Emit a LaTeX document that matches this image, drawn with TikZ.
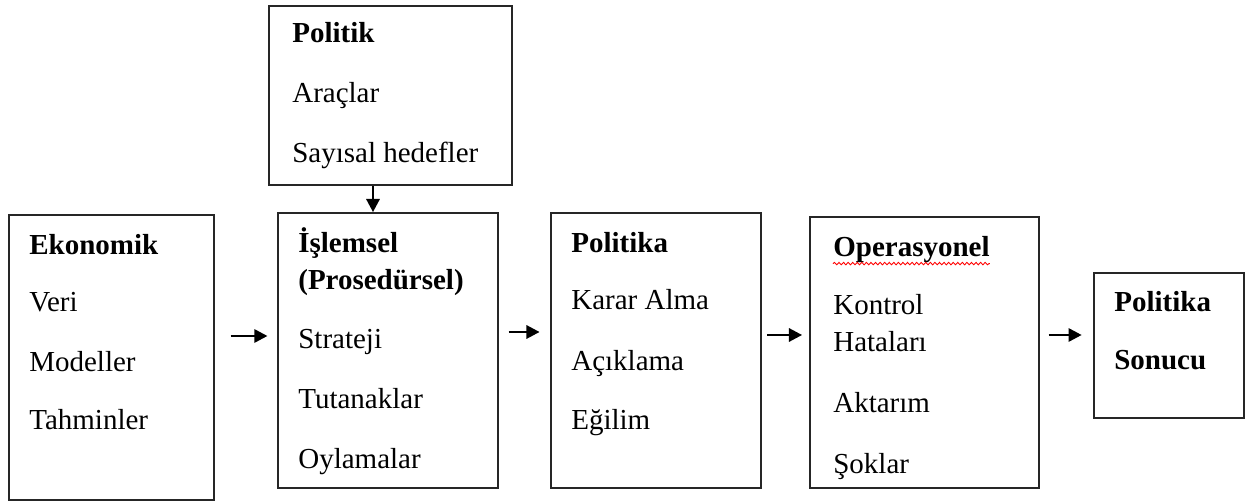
\documentclass[tikz,border=0pt]{standalone}
\usepackage{fontspec}
\setmainfont{Liberation Serif}
\usepackage{tikz}
\usetikzlibrary{arrows.meta,decorations.pathmorphing}

\begin{document}
\begin{tikzpicture}[
  x=0.02cm, y=-0.02cm,
  box/.style={
    draw=black!85,
    line width=1pt,
    rectangle,
    inner sep=0pt
  },
  txt/.style={
    anchor=base west,
    inner sep=0pt,
    font=\fontsize{16.5}{19}\selectfont
  },
  head/.style={txt, font=\fontsize{16.5}{19}\selectfont\bfseries},
  arrow/.style={-{Triangle[length=7.5pt,width=7.5pt]}, line width=1.5pt}
]
\useasboundingbox (0,0) rectangle (1249,502);

\node[box, minimum width=4.1cm,  minimum height=5.7cm]  (eko) at (111.5,357.5) {};
\node[box, minimum width=4.86cm, minimum height=3.58cm] (plt) at (390.5,95.5)  {};
\node[box, minimum width=4.4cm,  minimum height=5.5cm]  (isl) at (388,350.5)   {};
\node[box, minimum width=4.2cm,  minimum height=5.5cm]  (pol) at (656,350.5)   {};
\node[box, minimum width=4.58cm, minimum height=5.42cm] (ops) at (924.5,352.5) {};
\node[box, minimum width=3.0cm,  minimum height=2.9cm]  (son) at (1169,345.5)  {};

\node[head] (eko1) at (29,255) {Ekonomik};
\node[txt]  (eko2) at (29,312) {Veri};
\node[txt]  (eko3) at (29,372) {Modeller};
\node[txt]  (eko4) at (29,430) {Tahminler};

\node[head] (plt1) at (292,43)  {Politik};
\node[txt]  (plt2) at (292,103) {Araçlar};
\node[txt]  (plt3) at (292,163) {Sayısal hedefler};

\node[head] (isl1) at (298,253) {İşlemsel};
\node[head] (isl2) at (298,290) {(Prosedürsel)};
\node[txt]  (isl3) at (298,349) {Strateji};
\node[txt]  (isl4) at (298,409) {Tutanaklar};
\node[txt]  (isl5) at (298,469) {Oylamalar};

\node[head] (pol1) at (571,253) {Politika};
\node[txt]  (pol2) at (571,310) {Karar Alma};
\node[txt]  (pol3) at (571,371) {Açıklama};
\node[txt]  (pol4) at (571,430) {Eğilim};

\node[head] (ops1) at (833,257) {Operasyonel};
\node[txt]  (ops2) at (833,315) {Kontrol};
\node[txt]  (ops3) at (833,352) {Hataları};
\node[txt]  (ops4) at (833,413) {Aktarım};
\node[txt]  (ops5) at (833,474) {Şoklar};

\node[head] (son1) at (1114,312) {Politika};
\node[head] (son2) at (1114,370) {Sonucu};

\draw[red, line width=0.5pt, decorate,
  decoration={snake, amplitude=0.7pt, segment length=2.6pt}]
  (ops1.south west) -- (ops1.south east);

\coordinate (r1) at (0,336);
\coordinate (r2) at (0,332);
\coordinate (r3) at (0,335);
\coordinate (v1) at (373,0);

\draw[arrow, shorten <=9pt, shorten >=5.5pt] (eko.east |- r1) -- (isl.west |- r1);
\draw[arrow, shorten <=5.5pt, shorten >=6pt] (isl.east |- r2) -- (pol.west |- r2);
\draw[arrow, shorten <=3pt, shorten >=4pt]   (pol.east |- r3) -- (ops.west |- r3);
\draw[arrow, shorten <=5pt, shorten >=6.5pt] (ops.east |- r3) -- (son.west |- r3);
\draw[arrow] (plt.south -| v1) -- (isl.north -| v1);

\end{tikzpicture}
\end{document}
